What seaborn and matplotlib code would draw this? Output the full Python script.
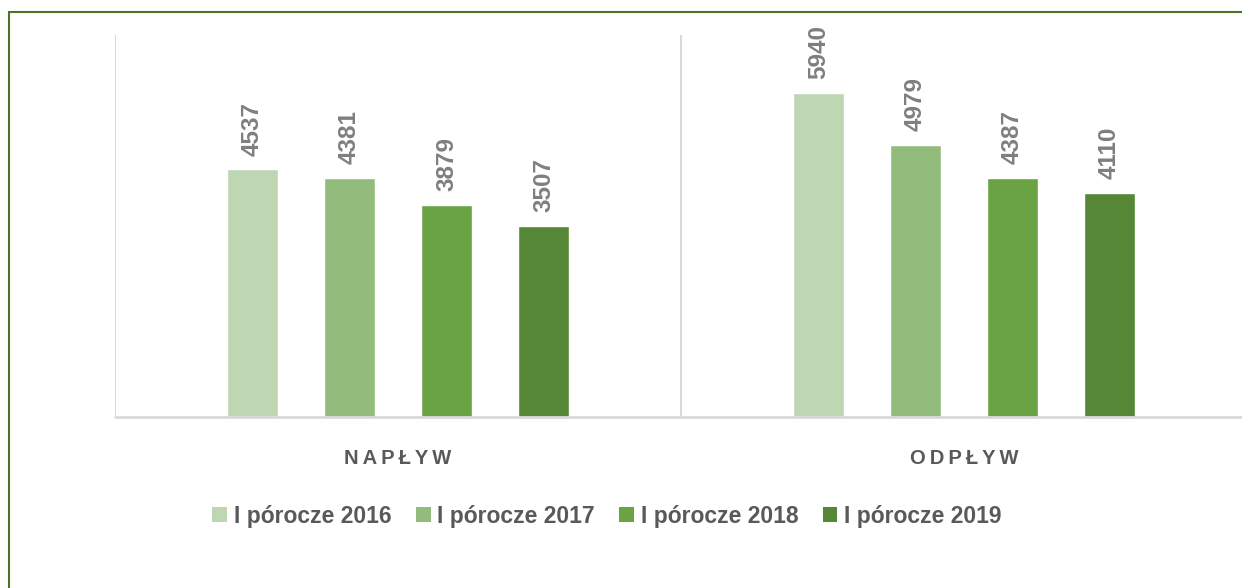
import pandas as pd
import matplotlib
matplotlib.use("Agg")
import matplotlib.pyplot as plt
from matplotlib.patches import Rectangle, Patch
import seaborn as sns

# Data
categories = ["NAPŁYW", "ODPŁYW"]
periods = ["I pórocze 2016", "I pórocze 2017", "I pórocze 2018", "I pórocze 2019"]
values_2016 = [4537, 5940]
values_2017 = [4381, 4979]
values_2018 = [3879, 4387]
values_2019 = [3507, 4110]
palette = ["#BFD6B3", "#93BB7C", "#6AA343", "#558736"]


def build_frame() -> pd.DataFrame:
    rows = []
    for period, vals in zip(periods, [values_2016, values_2017, values_2018, values_2019]):
        for cat, v in zip(categories, vals):
            rows.append({"kategoria": cat, "okres": period, "wartosc": v})
    return pd.DataFrame(rows)


def main() -> None:
    df = build_frame()

    sns.set_theme(style="white")
    plt.rcParams["font.family"] = ["Liberation Sans", "DejaVu Sans"]

    fig = plt.figure(figsize=(12.42, 5.88), dpi=100)
    ax = fig.add_axes([115 / 1242, 171 / 588, 1132 / 1242, 382 / 588])

    sns.barplot(
        data=df, x="kategoria", y="wartosc", hue="okres",
        order=categories, hue_order=periods, palette=palette,
        width=0.686, gap=0.47, saturation=1, legend=False, ax=ax,
    )

    # Data labels above the bars
    for container in ax.containers:
        ax.bar_label(container, fmt="%d", rotation=90, padding=10,
                     color="#7F7F7F", fontsize=17.5, fontweight="bold")

    ax.set_xlim(-0.5, 1.5)
    ax.set_ylim(0, 7000)
    ax.set_xlabel("")
    ax.set_ylabel("")
    ax.set_yticks([])
    for spine in ax.spines.values():
        spine.set_visible(False)
    ax.axhline(0, color="#D9D9D9", lw=2, clip_on=False)
    for x in [-0.5, 0.5, 1.5]:
        ax.axvline(x, color="#D9D9D9", lw=1.5)

    spaced = ["\u2009".join(list(c)) for c in categories]
    ax.set_xticks(range(len(categories)))
    ax.set_xticklabels(spaced, fontsize=14.5, fontweight="bold", color="#595959")
    ax.tick_params(axis="x", length=0, pad=23)

    handles = [Patch(facecolor=c, edgecolor="none") for c in palette]
    fig.legend(
        handles, periods, loc="center", ncol=4,
        bbox_to_anchor=(607 / 1242, 1 - 516 / 588), frameon=False,
        handlelength=0.65, handleheight=0.65, handletextpad=0.3,
        columnspacing=1.05,
        prop={"size": 16.5, "weight": "bold"}, labelcolor="#595959",
    )

    # Outer green frame of the chart area
    fig.patches.append(Rectangle(
        (9 / 1242, -0.1), 1.1, 1.1 - 12 / 588, transform=fig.transFigure,
        fill=False, edgecolor="#4F6F2A", lw=1.5,
    ))

    fig.savefig("out.png", dpi=100)


if __name__ == "__main__":
    main()
